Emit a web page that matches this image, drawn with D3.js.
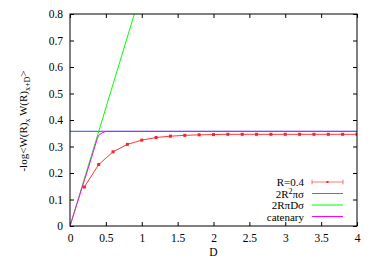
<!DOCTYPE html>
<html>
<head>
<meta charset="utf-8">
<script src="https://cdn.jsdelivr.net/npm/d3@7"></script>
<style>
  body { margin: 0; background: #fff; }
  svg text { font-family: "Liberation Serif", "Times New Roman", serif; }
  .axis text { font-size: 11.5px; fill: #000; }
  .axis path { display: none; }
  .axis line { stroke: #000; }
</style>
</head>
<body>
<svg id="chart" width="374" height="262"></svg>
<script>
// R=0.4 data points
var dVals = [0.2, 0.4, 0.6, 0.8, 1.0, 1.2, 1.4, 1.6, 1.8, 2.0, 2.2, 2.4, 2.6, 2.8, 3.0, 3.2, 3.4, 3.6, 3.8, 4.0];
var rVals = [0.147, 0.232, 0.280, 0.308, 0.324, 0.334, 0.339, 0.342, 0.344, 0.345, 0.346, 0.346, 0.346, 0.346, 0.346, 0.346, 0.346, 0.346, 0.346, 0.346];
var rErr = [0.004, 0.003, 0.003, 0.003, 0.003, 0.003, 0.003, 0.003, 0.003, 0.003, 0.003, 0.003, 0.003, 0.003, 0.003, 0.003, 0.003, 0.003, 0.003, 0.003];

// 2R^2 pi sigma (constant) and 2R pi D sigma (linear)
var plateau = 0.357;
var slope = 0.892;
var greenD = [0, 0.9];

// catenary curve
var catD = [0, 0.1, 0.2, 0.3, 0.38, 0.4, 0.45, 0.5, 4.0];
var catV = [0, 0.086, 0.172, 0.258, 0.330, 0.342, 0.352, 0.357, 0.357];

var xTicks = [0, 0.5, 1, 1.5, 2, 2.5, 3, 3.5, 4];
var yTicks = [0, 0.1, 0.2, 0.3, 0.4, 0.5, 0.6, 0.7, 0.8];

var mLeft = 70, mRight = 357, mTop = 14, mBottom = 226;
var serif = "'Liberation Serif', 'Times New Roman', serif";

var x = d3.scaleLinear().domain([0, 4]).range([mLeft, mRight]);
var y = d3.scaleLinear().domain([0, 0.8]).range([mBottom, mTop]);

var svg = d3.select("#chart");

svg.append("defs").append("clipPath").attr("id", "clip")
    .append("rect").attr("x", mLeft).attr("y", mTop)
    .attr("width", mRight - mLeft).attr("height", mBottom - mTop);

// axes with inward ticks on all sides
svg.append("g").attr("class", "axis")
    .attr("transform", "translate(0," + mBottom + ")")
    .call(d3.axisBottom(x).tickValues(xTicks).tickSize(-4).tickPadding(8)
        .tickFormat(d3.format("")))
    .attr("font-family", serif);
svg.append("g").attr("class", "axis")
    .attr("transform", "translate(0," + mTop + ")")
    .call(d3.axisTop(x).tickValues(xTicks).tickSize(-4).tickFormat(""));
svg.append("g").attr("class", "axis")
    .attr("transform", "translate(" + mLeft + ",0)")
    .call(d3.axisLeft(y).tickValues(yTicks).tickSize(-4).tickPadding(7)
        .tickFormat(d3.format("")))
    .attr("font-family", serif);
svg.append("g").attr("class", "axis")
    .attr("transform", "translate(" + mRight + ",0)")
    .call(d3.axisRight(y).tickValues(yTicks).tickSize(-4).tickFormat(""));

var plot = svg.append("g").attr("clip-path", "url(#clip)");
var line = d3.line().x(function(d) { return x(d[0]); }).y(function(d) { return y(d[1]); });

// blue plateau
plot.append("path")
    .datum([[0, plateau], [4, plateau]])
    .attr("d", line).attr("fill", "none").attr("stroke", "#5070ff").attr("stroke-width", 1.2);

// green slope
plot.append("path")
    .datum(greenD.map(function(d) { return [d, slope * d]; }))
    .attr("d", line).attr("fill", "none").attr("stroke", "#00ff00").attr("stroke-width", 1);

// catenary
plot.append("path")
    .datum(catD.map(function(d, i) { return [d, catV[i]]; }))
    .attr("d", line).attr("fill", "none").attr("stroke", "#ff00ff").attr("stroke-width", 1);

// red data
var red = "#ff2020";
plot.append("path")
    .datum(dVals.map(function(d, i) { return [d, rVals[i]]; }))
    .attr("d", line).attr("fill", "none").attr("stroke", red).attr("stroke-width", 0.9);

var pts = plot.selectAll(".pt").data(dVals).enter().append("g");
pts.append("line")
    .attr("x1", function(d) { return x(d); }).attr("x2", function(d) { return x(d); })
    .attr("y1", function(d, i) { return y(rVals[i] - rErr[i]); })
    .attr("y2", function(d, i) { return y(rVals[i] + rErr[i]); })
    .attr("stroke", red);
pts.append("rect")
    .attr("x", function(d) { return x(d) - 1.5; })
    .attr("y", function(d, i) { return y(rVals[i]) - 1.5; })
    .attr("width", 3).attr("height", 3)
    .attr("fill", red);

// frame
svg.append("rect").attr("x", mLeft).attr("y", mTop)
    .attr("width", mRight - mLeft).attr("height", mBottom - mTop)
    .attr("fill", "none").attr("stroke", "#000").attr("stroke-width", 1);

// legend
var legX1 = 312, legX2 = 343, legTextX = 304;
var legRows = [182, 193.5, 205, 216.5];
var leg = svg.append("g").attr("font-family", serif).attr("font-size", 11);

leg.append("text").attr("x", legTextX).attr("y", legRows[0] + 4)
    .attr("text-anchor", "end").text("R=0.4");
leg.append("line").attr("x1", legX1).attr("x2", legX2)
    .attr("y1", legRows[0]).attr("y2", legRows[0]).attr("stroke", red).attr("stroke-opacity", 0.6);
[legX1, legX2].forEach(function(px) {
    leg.append("line").attr("x1", px).attr("x2", px)
        .attr("y1", legRows[0] - 2.5).attr("y2", legRows[0] + 2.5).attr("stroke", red).attr("stroke-opacity", 0.6);
});
leg.append("rect").attr("x", (legX1 + legX2) / 2 - 1).attr("y", legRows[0] - 1)
    .attr("width", 2).attr("height", 2).attr("fill", red);

var t1 = leg.append("text").attr("x", legTextX).attr("y", legRows[1] + 4)
    .attr("text-anchor", "end");
t1.append("tspan").text("2R");
t1.append("tspan").attr("dy", -4).attr("font-size", 8).text("2");
t1.append("tspan").attr("dy", 4).text("πσ");
leg.append("line").attr("x1", legX1).attr("x2", legX2)
    .attr("y1", legRows[1]).attr("y2", legRows[1]).attr("stroke", "#5070ff");

leg.append("text").attr("x", legTextX).attr("y", legRows[2] + 4)
    .attr("text-anchor", "end").text("2RπDσ");
leg.append("line").attr("x1", legX1).attr("x2", legX2)
    .attr("y1", legRows[2]).attr("y2", legRows[2]).attr("stroke", "#00ff00");

leg.append("text").attr("x", legTextX).attr("y", legRows[3] + 4)
    .attr("text-anchor", "end").text("catenary");
leg.append("line").attr("x1", legX1).attr("x2", legX2)
    .attr("y1", legRows[3]).attr("y2", legRows[3]).attr("stroke", "#ff00ff");

// axis labels
svg.append("text").attr("x", (mLeft + mRight) / 2).attr("y", 256)
    .attr("font-family", serif)
    .attr("text-anchor", "middle").attr("font-size", 11.5).text("D");

var yl = svg.append("text")
    .attr("transform", "translate(27,121) rotate(-90)")
    .attr("font-family", serif)
    .attr("text-anchor", "middle").attr("font-size", 11);
yl.append("tspan").text("-log<W(R)");
yl.append("tspan").attr("dy", 3).attr("font-size", 8).text("x");
yl.append("tspan").attr("dy", -3).text(" W(R)");
yl.append("tspan").attr("dy", 3).attr("font-size", 8).text("x+D");
yl.append("tspan").attr("dy", -3).text(">");
</script>
</body>
</html>
